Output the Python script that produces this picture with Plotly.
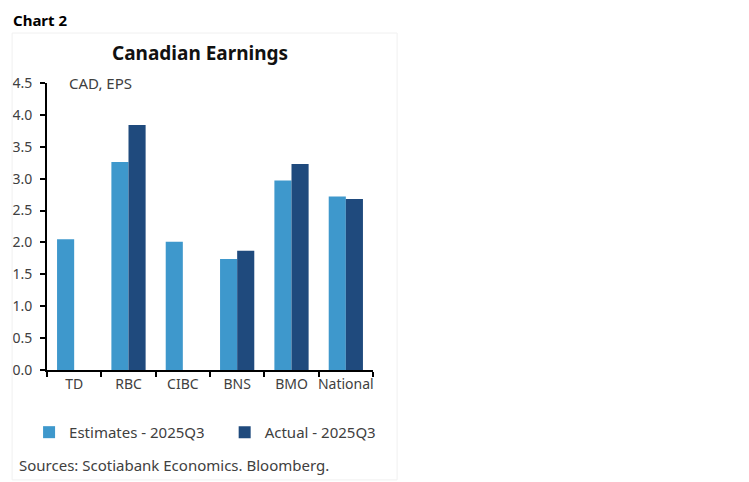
import plotly.graph_objects as go

banks = ["TD", "RBC", "CIBC", "BNS", "BMO", "National"]
estimates = [2.05, 3.26, 2.01, 1.74, 2.97, 2.72]
actual = [None, 3.84, None, 1.87, 3.23, 2.68]
y_ticks = [0, 0.5, 1, 1.5, 2, 2.5, 3, 3.5, 4, 4.5]

font = "Noto Sans"
grey = "#404040"
legend_font = dict(family=font, size=15, color=grey)

fig = go.Figure()
fig.add_trace(go.Bar(x=banks, y=estimates, name="Estimates - 2025Q3",
                     marker=dict(color="#3e98cc", line=dict(width=0)),
                     legend="legend"))
fig.add_trace(go.Bar(x=banks, y=actual, name="Actual - 2025Q3",
                     marker=dict(color="#1f4a7d", line=dict(width=0)),
                     legend="legend2"))

fig.update_xaxes(
    type="category", automargin=False, tickangle=0,
    showline=True, linecolor="black", linewidth=2,
    ticks="outside", tickson="boundaries", ticklen=5, tickcolor="black", tickwidth=2,
    tickfont=dict(family=font, size=14, color=grey),
    showgrid=False,
)
fig.update_yaxes(
    range=[0, 4.5], tickvals=y_ticks, tickformat=".1f", automargin=False,
    showline=True, linecolor="black", linewidth=2,
    ticks="outside", ticklen=5, tickcolor="black", tickwidth=2,
    ticklabelstandoff=5,
    tickfont=dict(family=font, size=14, color=grey),
    showgrid=False, zeroline=False,
)

# page adds ~8px body margin, so figure is a bit smaller and shifted
fig.update_layout(
    width=741, height=474,
    margin=dict(l=39, r=376, t=75, b=112),
    paper_bgcolor="white", plot_bgcolor="white",
    barmode="group", bargap=0.37, bargroupgap=0,
    showlegend=True,
    legend=dict(orientation="h", x=-0.055, y=-0.16, xanchor="left", yanchor="top",
                font=legend_font),
    legend2=dict(orientation="h", x=0.545, y=-0.16, xanchor="left", yanchor="top",
                 font=legend_font),
    shapes=[dict(type="rect", xref="paper", yref="paper",
                 x0=-0.107, x1=1.074, y0=-0.383, y1=1.174,
                 line=dict(color="#f0f0f0", width=1))],
    annotations=[
        dict(text="<b>Chart 2</b>", xref="paper", yref="paper", x=-0.11, y=1.22,
             xanchor="left", yanchor="middle", showarrow=False,
             font=dict(family=font, size=15, color="black")),
        dict(text="<b>Canadian Earnings</b>", xref="paper", yref="paper", x=0.47, y=1.105,
             xanchor="center", yanchor="middle", showarrow=False,
             font=dict(family=font, size=19, color="#111111")),
        dict(text="CAD, EPS", xref="paper", yref="paper", x=0.061, y=1.0,
             xanchor="left", yanchor="middle", showarrow=False,
             font=dict(family=font, size=15, color=grey)),
        dict(text="Sources: Scotiabank Economics. Bloomberg.", xref="paper", yref="paper",
             x=-0.092, y=-0.331, xanchor="left", yanchor="middle", showarrow=False,
             font=dict(family=font, size=15, color=grey)),
    ],
)

fig.write_html("out.html")
